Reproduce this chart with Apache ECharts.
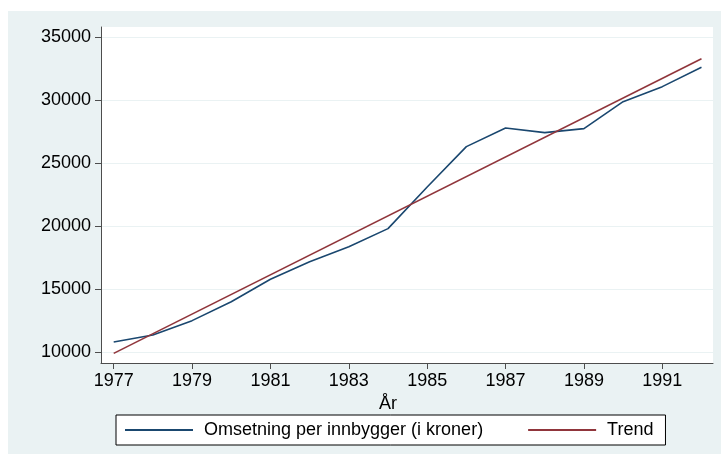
<!DOCTYPE html>
<html>
<head>
<meta charset="utf-8">
<script src="https://cdn.jsdelivr.net/npm/echarts@6/dist/echarts.min.js"></script>
<style>
  html, body { margin: 0; padding: 0; background: #fff; }
  #chart { position: absolute; left: 8px; top: 11px; width: 713px; height: 443px; background: #eaf2f3; }
</style>
</head>
<body>
<div id="chart"></div>
<script>
// data
var years = [1977, 1978, 1979, 1980, 1981, 1982, 1983, 1984, 1985, 1986, 1987, 1988, 1989, 1990, 1991, 1992];
var omsetning = [10800, 11350, 12490, 13990, 15770, 17170, 18360, 19790, 23100, 26300, 27780, 27410, 27730, 29870, 31060, 32600];
var trendYears = [1977, 1992];
var trendValues = [9890, 33280];
var xTicks = [1977, 1979, 1981, 1983, 1985, 1987, 1989, 1991];
var yTicks = [10000, 15000, 20000, 25000, 30000, 35000];

var font = "'Liberation Sans', Arial, Helvetica, sans-serif";
var fs = 18;

function pairs(xs, ys) {
  return xs.map(function (x, i) { return [x, ys[i]]; });
}

var chart = echarts.init(document.getElementById('chart'));
chart.setOption({
  backgroundColor: 'transparent',
  animation: false,
  textStyle: { fontFamily: font },
  grid: {
    left: 93, right: 8, top: 16, bottom: 91,
    show: true, backgroundColor: '#fff', borderWidth: 0
  },
  legend: {
    left: 108,
    top: 404,
    orient: 'horizontal',
    backgroundColor: '#fff',
    borderColor: '#000',
    borderWidth: 1,
    padding: [6, 12, 6, 8],
    itemWidth: 68,
    itemHeight: 14,
    itemGap: 44,
    itemStyle: { opacity: 0 },
    textStyle: { fontSize: fs, color: '#000', fontFamily: font, lineHeight: 17, padding: [0, 0, 0, 6] },
    data: ['Omsetning per innbygger (i kroner)', 'Trend']
  },
  xAxis: {
    type: 'value',
    min: 1976.676,
    max: 1992.294,
    name: 'År',
    nameLocation: 'middle',
    nameGap: 25,
    nameTextStyle: { fontSize: fs, color: '#000', fontFamily: font, padding: [0, 38, 0, 0] },
    axisLine: { show: true, onZero: false, lineStyle: { color: '#4d4d4d', width: 1 } },
    axisTick: { show: true, length: 6, customValues: xTicks, lineStyle: { color: '#4d4d4d' } },
    axisLabel: {
      customValues: xTicks, margin: 9, fontSize: fs, color: '#000', fontFamily: font,
      formatter: function (v) { return String(v); }
    },
    splitLine: { show: false }
  },
  yAxis: {
    type: 'value',
    min: 9127,
    max: 35794,
    axisLine: { show: true, onZero: false, lineStyle: { color: '#4d4d4d', width: 1 } },
    axisTick: { show: true, length: 6, customValues: yTicks, lineStyle: { color: '#4d4d4d' } },
    axisLabel: {
      customValues: yTicks, margin: 10, fontSize: fs, color: '#000', fontFamily: font,
      formatter: function (v) { return String(v); }
    },
    splitLine: { show: true, lineStyle: { color: '#eaf2f3', width: 1 } }
  },
  series: [
    {
      name: 'Omsetning per innbygger (i kroner)',
      type: 'line',
      symbol: 'none',
      data: pairs(years, omsetning),
      lineStyle: { color: '#1a476f', width: 1.6 },
      itemStyle: { color: '#1a476f' }
    },
    {
      name: 'Trend',
      type: 'line',
      symbol: 'none',
      data: pairs(trendYears, trendValues),
      lineStyle: { color: '#90353b', width: 1.6 },
      itemStyle: { color: '#90353b' }
    }
  ]
});
</script>
</body>
</html>
